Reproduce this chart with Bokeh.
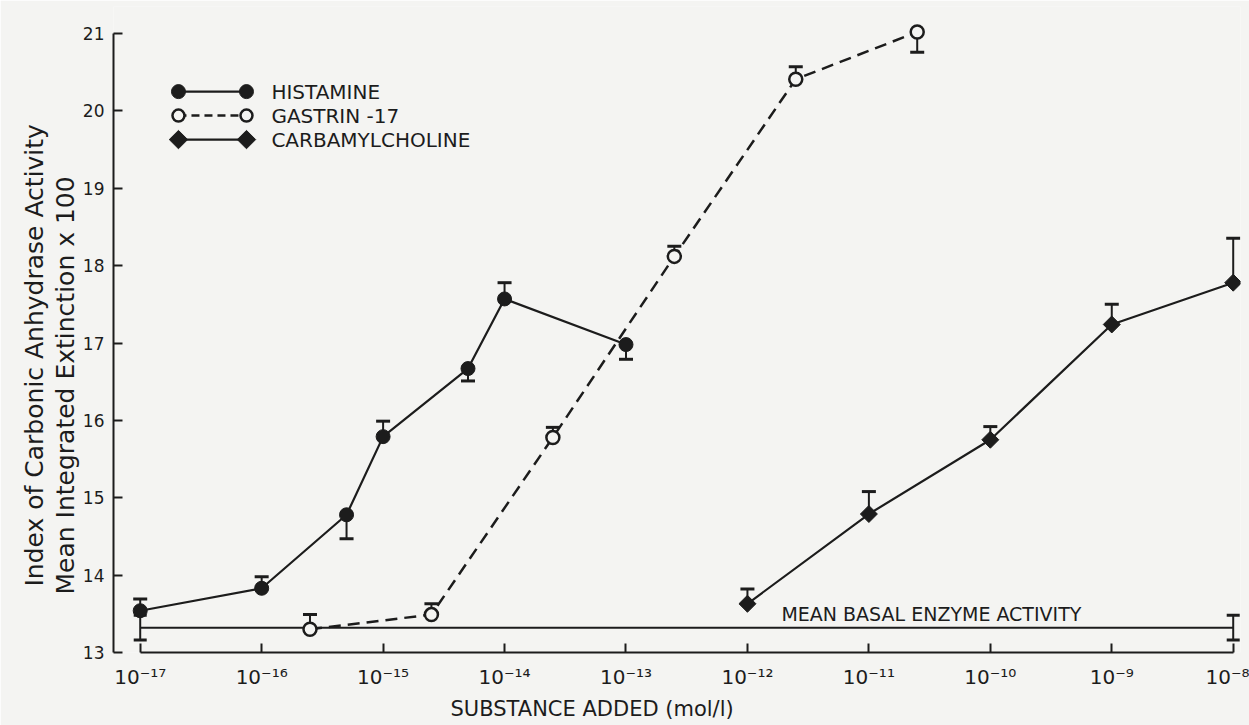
import numpy as np
from bokeh.plotting import figure
from bokeh.models import FixedTicker, Title, Range1d
from bokeh.embed import file_html
from bokeh.resources import INLINE
from bokeh.core.properties import value

# ---- data: log10 of added concentration (mol/l) and mean integrated extinction x 100
hist_logc = [-17.0, -16.0, np.log10(5e-16), -15.0, np.log10(5e-15), -14.0, -13.0]
hist_val = [13.54, 13.83, 14.78, 15.79, 16.67, 17.57, 16.98]
hist_err = [0.15, 0.15, -0.31, 0.20, -0.16, 0.21, -0.19]   # sign = direction of the bar

gas_logc = [np.log10(2.5e-16), np.log10(2.5e-15), np.log10(2.5e-14),
            np.log10(2.5e-13), np.log10(2.5e-12), np.log10(2.5e-11)]
gas_val = [13.30, 13.49, 15.78, 18.12, 20.41, 21.02]
gas_err = [0.19, 0.14, 0.13, 0.13, 0.16, -0.26]

carb_logc = [-12.0, -11.0, -10.0, -9.0, -8.0]
carb_val = [13.63, 14.79, 15.75, 17.24, 17.78]
carb_err = [0.19, 0.29, 0.17, 0.26, 0.575]

basal_logc = [-17.0, -8.0]
basal_val = 13.32
basal_err = 0.16

x_ticks = list(range(-17, -7))
y_ticks = list(range(13, 22))

series_names = ["HISTAMINE", "GASTRIN -17", "CARBAMYLCHOLINE"]
basal_label = "MEAN BASAL ENZYME ACTIVITY"

# ---- style
BG = "#f4f4f2"
INK = "#1c1c1c"
FONT = "DejaVu Sans"

SUP = str.maketrans("-0123456789", "⁻⁰¹²³⁴⁵⁶⁷⁸⁹")


def power_label(t):
    return "10" + str(t).translate(SUP)


p = figure(width=1249, height=725,
           x_range=Range1d(-17.22, -7.94), y_range=Range1d(13.0, 21.35),
           output_backend="svg", toolbar_location=None,
           min_border_left=113, min_border_right=9,
           min_border_top=6, min_border_bottom=73,
           background_fill_color=BG, border_fill_color=BG,
           outline_line_color=None)
p.xgrid.visible = False
p.ygrid.visible = False

# axes: detached, ticks pointing inwards
for ax in (p.xaxis[0], p.yaxis[0]):
    ax.axis_line_color = INK
    ax.axis_line_width = 2
    ax.major_tick_line_color = INK
    ax.major_tick_line_width = 2
    ax.major_tick_in = 9
    ax.major_tick_out = 0
    ax.minor_tick_line_color = None
    ax.major_label_text_color = INK
    ax.major_label_text_font = FONT

p.xaxis.ticker = FixedTicker(ticks=x_ticks)
p.xaxis.bounds = (-17, -8)
p.xaxis.major_label_overrides = {t: power_label(t) for t in x_ticks}
p.xaxis.major_label_text_font_size = "20px"
p.xaxis.major_label_standoff = 12

p.yaxis.ticker = FixedTicker(ticks=y_ticks)
p.yaxis.bounds = (13, 21)
p.yaxis.major_label_text_font_size = "17px"
p.yaxis.major_label_standoff = 9

# axis titles
p.add_layout(Title(text="Mean Integrated Extinction x 100", align="left", offset=58,
                   text_font=FONT, text_font_size="25px", text_font_style="normal",
                   text_color=INK, standoff=0), "left")
p.add_layout(Title(text="Index of Carbonic Anhydrase Activity", align="left", offset=66,
                   text_font=FONT, text_font_size="25px", text_font_style="normal",
                   text_color=INK, standoff=0), "left")
p.add_layout(Title(text="SUBSTANCE ADDED (mol/l)", align="left", offset=337,
                   text_font=FONT, text_font_size="21px", text_font_style="normal",
                   text_color=INK, standoff=6), "below")


def error_bars(xs, ys, errs, cap=14):
    tips = [y + e for y, e in zip(ys, errs)]
    p.segment(x0=xs, y0=ys, x1=xs, y1=tips, line_color=INK, line_width=2)
    p.scatter(xs, tips, marker="dash", size=cap, line_color=INK, line_width=3)


# mean basal activity with its spread at both ends
p.line(basal_logc, [basal_val] * len(basal_logc), line_color=INK, line_width=2)
p.segment(x0=basal_logc, y0=[basal_val - basal_err] * 2, x1=basal_logc,
          y1=[basal_val + basal_err] * 2, line_color=INK, line_width=2)
p.scatter(basal_logc * 2, [basal_val - basal_err] * 2 + [basal_val + basal_err] * 2,
          marker="dash", size=13, line_color=INK, line_width=3)
p.text(x=[-11.72], y=[basal_val], text=[basal_label], text_baseline="bottom",
       y_offset=-3, text_font=value(FONT), text_font_size="19px", text_color=INK)

# series lines
p.line(hist_logc, hist_val, line_color=INK, line_width=2.2)
p.line(gas_logc, gas_val, line_color=INK, line_width=2.5, line_dash="12 7")
p.line(carb_logc, carb_val, line_color=INK, line_width=2.2)

error_bars(hist_logc, hist_val, hist_err)
error_bars(gas_logc, gas_val, gas_err)
error_bars(carb_logc, carb_val, carb_err)

# markers
p.scatter(hist_logc, hist_val, marker="circle", size=14, fill_color=INK, line_color=INK)
p.scatter(gas_logc, gas_val, marker="circle", size=13, fill_color=BG, line_color=INK,
          line_width=2.5)
p.scatter(carb_logc, carb_val, marker="square", angle=np.pi / 4, size=12,
          fill_color=INK, line_color=INK)

# key, upper left
leg_x = [-16.685, -16.125]
leg_y = [20.25, 19.94, 19.63]
leg_text_x = -15.92
p.line(leg_x, [leg_y[0]] * 2, line_color=INK, line_width=2.2)
p.scatter(leg_x, [leg_y[0]] * 2, marker="circle", size=14, fill_color=INK, line_color=INK)
p.line(leg_x, [leg_y[1]] * 2, line_color=INK, line_width=2.5, line_dash="8 5")
p.scatter(leg_x, [leg_y[1]] * 2, marker="circle", size=12, fill_color=BG, line_color=INK,
          line_width=2.5)
p.line(leg_x, [leg_y[2]] * 2, line_color=INK, line_width=2.2)
p.scatter(leg_x, [leg_y[2]] * 2, marker="square", angle=np.pi / 4, size=13,
          fill_color=INK, line_color=INK)
p.text(x=[leg_text_x] * 3, y=leg_y, text=series_names, text_baseline="middle",
       text_font=value(FONT), text_font_size="20px", text_color=INK)

open("out.html", "w").write(file_html(p, INLINE))
